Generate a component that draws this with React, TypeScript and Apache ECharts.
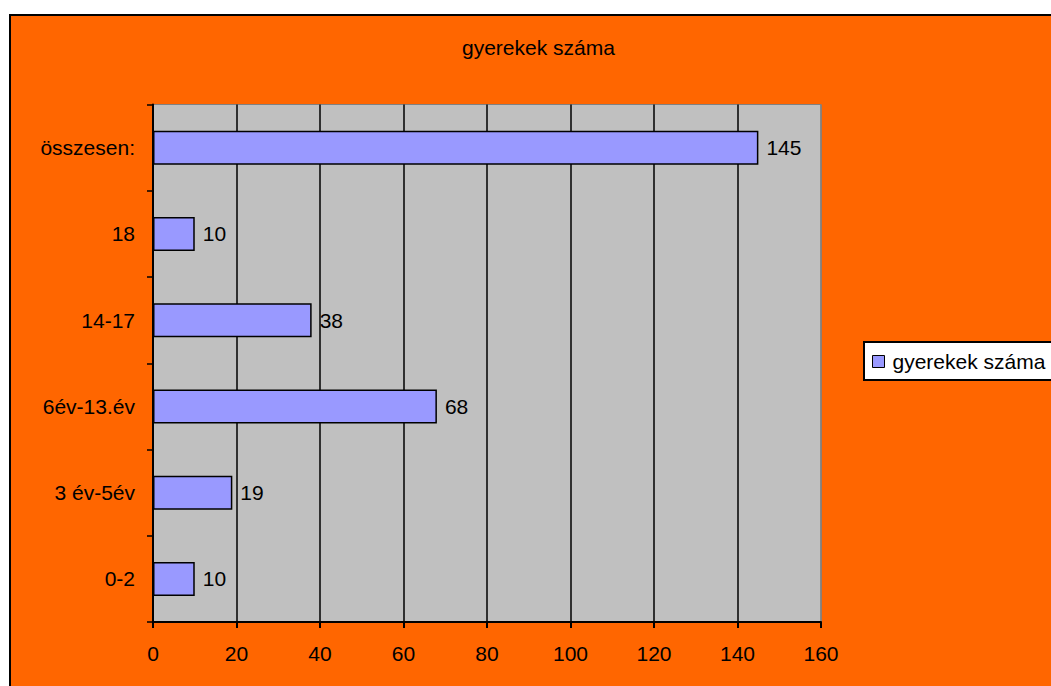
import React, { useEffect, useRef } from "react";
import * as echarts from "echarts";

const categories: string[] = ["0-2", "3 év-5év", "6év-13.év", "14-17", "18", "összesen:"];
const values: number[] = [10, 19, 68, 38, 10, 145];
const seriesName = "gyerekek száma";
const titleText = "gyerekek száma";

const FONT = "'Liberation Sans', Arial, sans-serif";
const FS = 21;

export default function App() {
  const ref = useRef<HTMLDivElement>(null);
  useEffect(() => {
    if (!ref.current) return;
    const chart = echarts.init(ref.current, undefined, { renderer: "svg" });
    chart.setOption({
      animation: false,
      backgroundColor: "#ffffff",
      textStyle: { fontFamily: FONT },
      graphic: [
        {
          type: "rect",
          z: -10,
          silent: true,
          shape: { x: 10, y: 15, width: 1100, height: 700 },
          style: { fill: "#FF6600", stroke: "#000000", lineWidth: 2 },
        },
        {
          type: "rect",
          z: 1,
          silent: true,
          shape: { x: 864, y: 342, width: 230, height: 38 },
          style: { fill: "#ffffff", stroke: "#000000", lineWidth: 2 },
        },
      ],
      title: {
        text: titleText,
        left: 462,
        top: 37,
        padding: 0,
        textStyle: { fontFamily: FONT, fontSize: FS, fontWeight: "normal", color: "#000" },
      },
      legend: {
        data: [seriesName],
        left: 872,
        top: 351,
        z: 10,
        orient: "vertical",
        padding: 0,
        itemWidth: 12,
        itemHeight: 12,
        icon: "rect",
        itemStyle: { borderColor: "#000", borderWidth: 1 },
        textStyle: { fontFamily: FONT, fontSize: FS, color: "#000", padding: [0, 0, 0, 3] },
      },
      grid: {
        left: 153,
        top: 104.5,
        right: 230,
        bottom: 64,
        show: true,
        backgroundColor: "#C0C0C0",
        borderColor: "#808080",
        borderWidth: 1,
        containLabel: false,
      },
      xAxis: {
        type: "value",
        min: 0,
        max: 160,
        interval: 20,
        axisLine: { show: true, lineStyle: { color: "#000", width: 2 } },
        axisTick: { show: true, inside: false, length: 6, lineStyle: { color: "#000", width: 2 } },
        axisLabel: { color: "#000", fontFamily: FONT, fontSize: FS, margin: 21 },
        splitLine: {
          show: true,
          lineStyle: {
            color: ["#000", "#000", "#000", "#000", "#000", "#000", "#000", "#000", "#808080"],
            width: 1.5,
          },
        },
      },
      yAxis: {
        type: "category",
        data: categories,
        axisLine: { show: true, lineStyle: { color: "#000", width: 2 } },
        axisTick: { show: true, inside: false, length: 6, lineStyle: { color: "#000", width: 1.5 } },
        axisLabel: { color: "#000", fontFamily: FONT, fontSize: FS, margin: 18 },
        splitLine: { show: false },
      },
      series: [
        {
          name: seriesName,
          type: "bar",
          data: values,
          barWidth: 34,
          itemStyle: { color: "#9999FF", borderColor: "#000", borderWidth: 1.5 },
          label: {
            show: true,
            position: "right",
            distance: 8,
            color: "#000",
            fontFamily: FONT,
            fontSize: FS,
          },
        },
      ],
    });
    return () => chart.dispose();
  }, []);
  return (
    <div
      ref={ref}
      style={{ position: "absolute", left: 0, top: 0, width: 1051, height: 686 }}
    />
  );
}
